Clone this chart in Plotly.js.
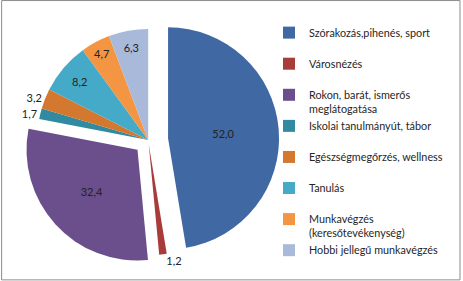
<!DOCTYPE html>
<html><head><meta charset="utf-8">
<script src="https://cdn.plot.ly/plotly-3.0.1.min.js"></script>
<style>html,body{margin:0;padding:0;background:#fff}#c{width:463px;height:281px}</style>
</head><body><div id="c"></div>
<script>
const categories = [
  "Szórakozás,pihenés, sport",
  "Városnézés",
  "Rokon, barát, ismerős<br>meglátogatása",
  "Iskolai tanulmányút, tábor",
  "Egészségmegőrzés, wellness",
  "Tanulás",
  "Munkavégzés<br>(keresőtevékenység)",
  "Hobbi jellegű munkavégzés"
];
const values = [52.0, 1.2, 32.4, 1.7, 3.2, 8.2, 4.7, 6.3];
const valueLabels = ["52,0", "1,2", "32,4", "1,7", "3,2", "8,2", "4,7", "6,3"];
const colors = ["#4068a3", "#a83c3a", "#6a4f8c", "#318aa0", "#d4782f", "#45aac8", "#f39542", "#a9b9d9"];
const pulls = [0.18, 0.04, 0.13, 0, 0, 0, 0, 0];
const textPos = ["inside", "outside", "inside", "outside", "outside", "inside", "inside", "inside"];

// pad single-line legend entries so every entry uses two lines of height
const legendLabels = categories.map(c => c.includes("<br>") ? c : c + "<br> ");

const trace = {
  type: "pie",
  labels: legendLabels,
  values: values,
  text: valueLabels,
  textinfo: "text",
  textposition: textPos,
  insidetextorientation: "horizontal",
  textfont: {family: "Lato, 'Noto Sans', sans-serif", size: 11, color: "#222"},
  outsidetextfont: {family: "Lato, 'Noto Sans', sans-serif", size: 11, color: "#222"},
  sort: false,
  direction: "clockwise",
  rotation: 0,
  pull: pulls,
  marker: {colors: colors, line: {width: 0}},
  domain: {x: [0.037, 0.603], y: [0.036, 0.968]},
  hoverinfo: "none"
};

const layout = {
  width: 463, height: 281,
  margin: {l: 0, r: 0, t: 0, b: 0, autoexpand: false},
  paper_bgcolor: "#fff",
  showlegend: true,
  legend: {
    x: 0.581, y: 0.932, xanchor: "left", yanchor: "top",
    bgcolor: "rgba(0,0,0,0)",
    font: {family: "Lato, 'Noto Sans', sans-serif", size: 10.8, color: "#262626"},
    valign: "top",
    itemwidth: 30,
    tracegroupgap: 0
  },
  shapes: [{type: "rect", xref: "paper", yref: "paper", x0: 0.0035, x1: 0.9935, y0: 0.004, y1: 0.998,
            line: {color: "#8c8c8c", width: 1}}]
};

Plotly.newPlot("c", [trace], layout, {displayModeBar: false, staticPlot: true});
</script></body></html>
